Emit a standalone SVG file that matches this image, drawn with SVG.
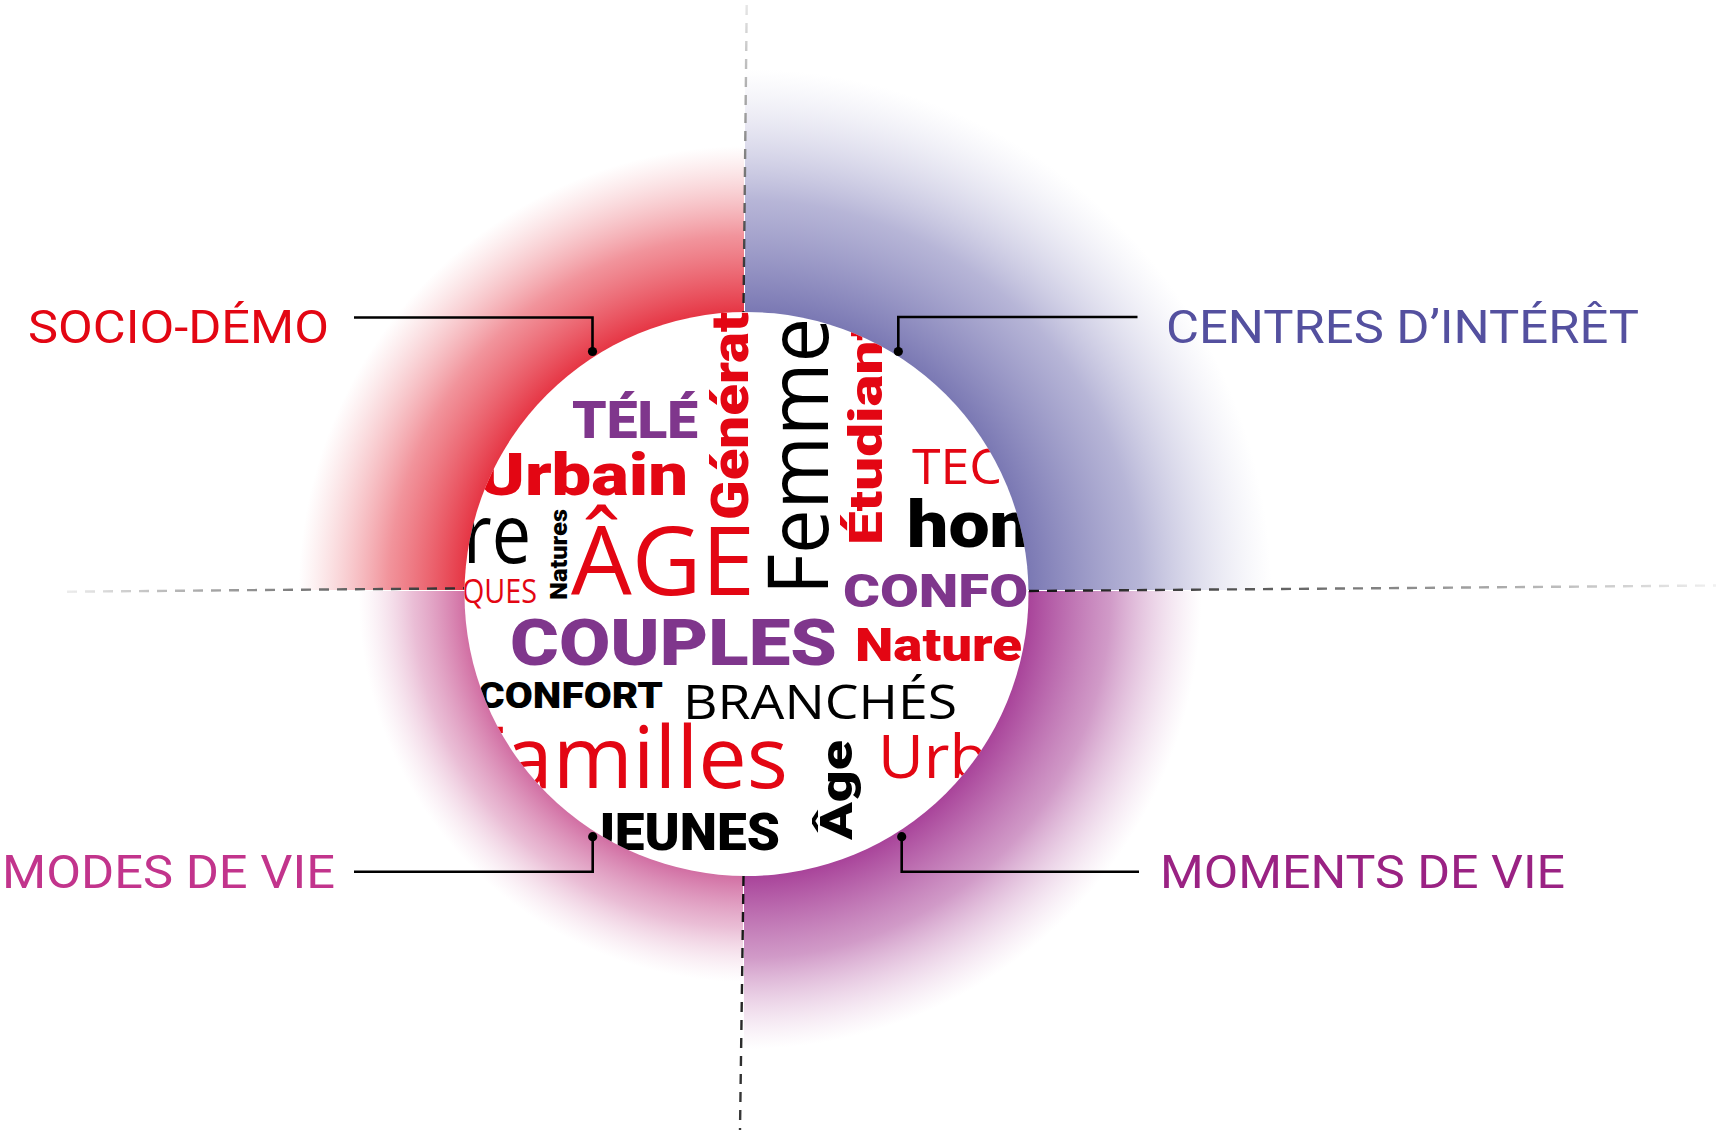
<svg xmlns="http://www.w3.org/2000/svg" width="1716" height="1132" viewBox="0 0 1716 1132">
<style>
.lbl{font-family:Roboto,'Liberation Sans',sans-serif;font-size:47px;font-weight:400}
.b{font-family:Roboto,'Liberation Sans',sans-serif;font-weight:900}
.r{font-family:'Open Sans','Liberation Sans',sans-serif;font-weight:400}
.red{fill:#e30613}.pur{fill:#7f368c}.blk{fill:#000}
.conn{fill:none;stroke:#000;stroke-width:2.6}
.dot{fill:#000}
.dash{fill:none;stroke-width:2.4;stroke-dasharray:10 8}
</style>
<defs>
<radialGradient id="gRed" gradientUnits="userSpaceOnUse" cx="746.5" cy="594" r="448">
<stop offset="0.62" stop-color="#e5303f" stop-opacity="1"/>
<stop offset="0.8" stop-color="#ea5a66" stop-opacity="0.65"/>
<stop offset="1" stop-color="#ee8a93" stop-opacity="0"/>
</radialGradient>
<radialGradient id="gBlue" gradientUnits="userSpaceOnUse" cx="746.5" cy="594" r="525">
<stop offset="0.53" stop-color="#7876b2" stop-opacity="1"/>
<stop offset="0.75" stop-color="#9896c6" stop-opacity="0.7"/>
<stop offset="1" stop-color="#c5c4e0" stop-opacity="0"/>
</radialGradient>
<radialGradient id="gPur" gradientUnits="userSpaceOnUse" cx="746.5" cy="594" r="455">
<stop offset="0.61" stop-color="#a63e97" stop-opacity="1"/>
<stop offset="0.8" stop-color="#bd6fb0" stop-opacity="0.7"/>
<stop offset="1" stop-color="#d9a8cf" stop-opacity="0"/>
</radialGradient>
<radialGradient id="gPink" gradientUnits="userSpaceOnUse" cx="746.5" cy="594" r="388">
<stop offset="0.72" stop-color="#d06aa0" stop-opacity="1"/>
<stop offset="0.86" stop-color="#dc92ba" stop-opacity="0.6"/>
<stop offset="1" stop-color="#ebc2d8" stop-opacity="0"/>
</radialGradient>
<linearGradient id="lnL" gradientUnits="userSpaceOnUse" x1="67" y1="0" x2="464" y2="0">
<stop offset="0" stop-color="#ececec"/><stop offset="1" stop-color="#2a2a2a"/>
</linearGradient>
<linearGradient id="lnR" gradientUnits="userSpaceOnUse" x1="1029" y1="0" x2="1716" y2="0">
<stop offset="0" stop-color="#111"/><stop offset="1" stop-color="#f0f0f0"/>
</linearGradient>
<linearGradient id="lnT" gradientUnits="userSpaceOnUse" x1="0" y1="5" x2="0" y2="312">
<stop offset="0" stop-color="#e6e6e6"/><stop offset="1" stop-color="#1a1a1a"/>
</linearGradient>
<linearGradient id="lnB" gradientUnits="userSpaceOnUse" x1="0" y1="876" x2="0" y2="1130">
<stop offset="0" stop-color="#111"/><stop offset="1" stop-color="#3a3a3a"/>
</linearGradient>
<clipPath id="circ"><circle cx="746.5" cy="594" r="282"/></clipPath>
</defs>
<rect width="1716" height="1132" fill="#fff"/>

<g id="quadrants">
<rect id="q-socio" x="0" y="0" width="744" height="590" fill="url(#gRed)"/>
<rect id="q-centres" x="745" y="0" width="971" height="590" fill="url(#gBlue)"/>
<rect id="q-modes" x="0" y="591" width="743" height="541" fill="url(#gPink)"/>
<rect id="q-moments" x="744" y="591" width="972" height="541" fill="url(#gPur)"/>
</g>

<g id="axes">
<line class="dash" x1="67" y1="591.7" x2="464" y2="588.3" stroke="url(#lnL)"/>
<line class="dash" x1="1029" y1="591" x2="1716" y2="585.5" stroke="url(#lnR)"/>
<line class="dash" x1="746.7" y1="5" x2="743.5" y2="312" stroke="url(#lnT)"/>
<line class="dash" x1="743.5" y1="876" x2="740" y2="1130" stroke="url(#lnB)"/>
</g>

<g id="cloud">
<circle cx="746.5" cy="594" r="282" fill="#fff"/>
<g clip-path="url(#circ)">
<text class="b pur" x="572" y="438" font-size="51" textLength="126" lengthAdjust="spacingAndGlyphs">TÉLÉ</text>
<text class="b red" x="478" y="495" font-size="60" textLength="210" lengthAdjust="spacingAndGlyphs">Urbain</text>
<text class="b red" x="748" y="520" font-size="52" transform="rotate(-90 748 520)" textLength="208" lengthAdjust="spacingAndGlyphs">Générat</text>
<text class="r blk" x="828" y="595" font-size="84" transform="rotate(-90 828 595)" textLength="277" lengthAdjust="spacingAndGlyphs">Femme</text>
<text class="b red" x="882" y="545" font-size="46" transform="rotate(-90 882 545)" textLength="225" lengthAdjust="spacingAndGlyphs">Étudiant</text>
<text class="r red" x="912" y="484" font-size="49" textLength="90" lengthAdjust="spacingAndGlyphs">TEC</text>
<text class="b blk" x="907" y="547" font-size="65" textLength="124" lengthAdjust="spacingAndGlyphs">hon</text>
<text class="r blk" x="463" y="563" font-size="83" textLength="68" lengthAdjust="spacingAndGlyphs">re</text>
<text class="b blk" x="567" y="600" font-size="24" transform="rotate(-90 567 600)" textLength="91" lengthAdjust="spacingAndGlyphs">Natures</text>
<text class="r red" x="571" y="595" font-size="95" textLength="184" lengthAdjust="spacingAndGlyphs">ÂGE</text>
<text class="r red" x="462" y="603" font-size="32" textLength="75" lengthAdjust="spacingAndGlyphs">QUES</text>
<text class="b pur" x="843" y="607" font-size="47" textLength="185" lengthAdjust="spacingAndGlyphs">CONFO</text>
<text class="b pur" x="510" y="665" font-size="65" textLength="327" lengthAdjust="spacingAndGlyphs">COUPLES</text>
<text class="b red" x="855" y="661" font-size="46" textLength="167" lengthAdjust="spacingAndGlyphs">Nature</text>
<text class="b blk" x="478" y="708" font-size="37" textLength="185" lengthAdjust="spacingAndGlyphs">CONFORT</text>
<text class="r blk" x="683" y="719" font-size="47" textLength="274" lengthAdjust="spacingAndGlyphs">BRANCHÉS</text>
<text class="r red" x="460" y="788" font-size="86" textLength="328" lengthAdjust="spacingAndGlyphs">Familles</text>
<text class="b blk" x="852" y="840" font-size="44" transform="rotate(-90 852 840)" textLength="100" lengthAdjust="spacingAndGlyphs">Âge</text>
<text class="r red" x="878" y="778" font-size="60" textLength="110" lengthAdjust="spacingAndGlyphs">Urb</text>
<text class="b blk" x="585" y="850" font-size="51" textLength="195" lengthAdjust="spacingAndGlyphs">JEUNES</text>
</g>
</g>

<g id="connectors">
<polyline class="conn" points="354,317.5 592.5,317.5 592.5,351.5"/>
<circle class="dot" cx="592.5" cy="351.5" r="4.6"/>
<polyline class="conn" points="1137.5,317 898.3,317 898.3,351.5"/>
<circle class="dot" cx="898.3" cy="351.5" r="4.6"/>
<polyline class="conn" points="354,871.7 592.7,871.7 592.7,836.7"/>
<circle class="dot" cx="592.7" cy="836.7" r="4.6"/>
<polyline class="conn" points="1139,871.7 901.7,871.7 901.7,836.7"/>
<circle class="dot" cx="901.7" cy="836.7" r="4.6"/>
</g>

<g id="label-socio">
<text class="lbl" x="28" y="342.5" fill="#e30613" textLength="301" lengthAdjust="spacingAndGlyphs">SOCIO-DÉMO</text>
</g>
<g id="label-centres">
<text class="lbl" x="1166" y="342.5" fill="#54509f" textLength="473" lengthAdjust="spacingAndGlyphs">CENTRES D’INTÉRÊT</text>
</g>
<g id="label-modes">
<text class="lbl" x="2" y="888" fill="#c2348c" textLength="333" lengthAdjust="spacingAndGlyphs">MODES DE VIE</text>
</g>
<g id="label-moments">
<text class="lbl" x="1160" y="888" fill="#9a2283" textLength="405" lengthAdjust="spacingAndGlyphs">MOMENTS DE VIE</text>
</g>
</svg>
